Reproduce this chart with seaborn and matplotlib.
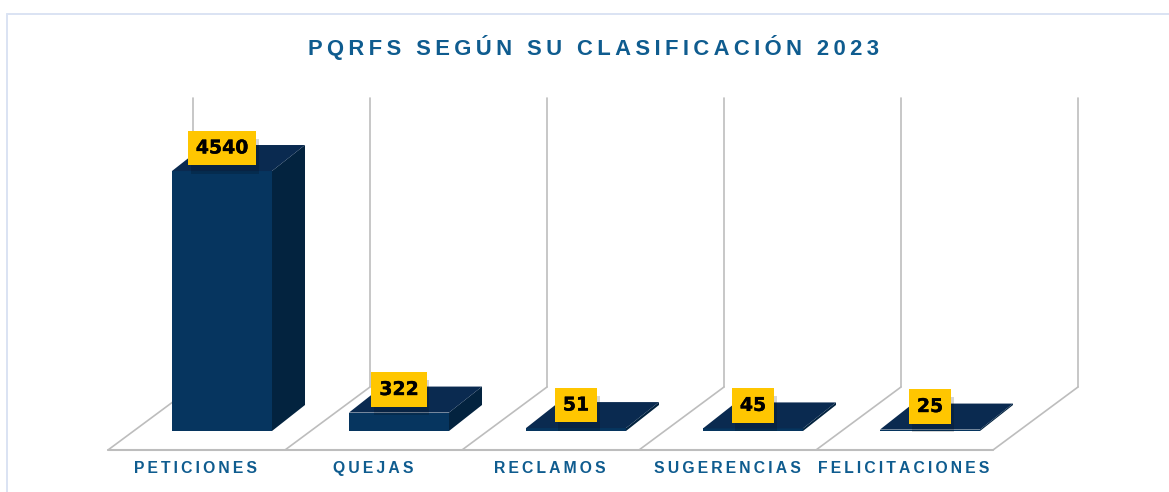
import matplotlib
matplotlib.use("Agg")
import matplotlib.pyplot as plt
import matplotlib.patheffects as pe
from matplotlib.lines import Line2D
from matplotlib.patches import Polygon
import seaborn as sns

categories = ["PETICIONES", "QUEJAS", "RECLAMOS", "SUGERENCIAS", "FELICITACIONES"]
values = [4540, 322, 51, 45, 25]
title = "PQRFS SEGÚN SU CLASIFICACIÓN 2023"

W, H = 1169, 492
BLUE = "#0F5C8F"
FRONT, TOP, SIDE = "#06355F", "#0A2A50", "#03233F"
GREY = "#BDBDBD"
YELLOW = "#FFC600"


def tracked(s, gap):
    return gap.join(s)


sns.set_theme(style="white")
plt.rcParams["font.family"] = ["Liberation Sans", "DejaVu Sans"]

fig = plt.figure(figsize=(W / 100, H / 100), dpi=100, facecolor="white")
ax = fig.add_axes([133.5 / W, 1 - 431 / H, 885 / W, 331 / H])
ax.patch.set_alpha(0)

sns.barplot(x=categories, y=values, color=FRONT, saturation=1, width=0.565, ax=ax, zorder=3,
            linewidth=0)
ax.set_xlim(-0.5, 4.5)
ax.set_ylim(0, 5780)

# px -> data conversions for the pseudo-3D depth
ux = 177.0
uy = 260.0 / 4540.0
dx, dy = 33 / ux, 26 / uy

# side and top faces of each bar
for bar in list(ax.patches):
    x0, w, h = bar.get_x(), bar.get_width(), bar.get_height()
    x1 = x0 + w
    ax.add_patch(Polygon([(x1, 0), (x1 + dx, dy), (x1 + dx, h + dy), (x1, h)],
                         fc=SIDE, ec="none", zorder=3, clip_on=False))
    ax.add_patch(Polygon([(x0, h), (x0 + dx, h + dy), (x1 + dx, h + dy), (x1, h)],
                         fc=TOP, ec="none", zorder=3, clip_on=False))

# floor and back walls
n = len(categories)
back_off, front_off = 59.5 / ux, -25.5 / ux
floor_front, floor_back, wall_top = -19 / uy, 44 / uy, 333 / uy
for i in range(n + 1):
    xb = i - 0.5 + back_off
    xf = i - 0.5 + front_off
    ax.add_line(Line2D([xb, xb], [floor_back, wall_top], color=GREY, lw=1.2, zorder=1, clip_on=False))
    ax.add_line(Line2D([xf, xb], [floor_front, floor_back], color=GREY, lw=1.2, zorder=1, clip_on=False))
ax.add_line(Line2D([-0.5 + front_off, n - 0.5 + front_off], [floor_front, floor_front],
                   color=GREY, lw=1.5, zorder=1, clip_on=False))

# value labels
for bar, v in zip(list(ax.patches)[:len(values)], values):
    t = ax.annotate(str(v), xy=(bar.get_x() + bar.get_width() / 2, v), xytext=(0, 16.6),
                    textcoords="offset points", ha="center", va="center",
                    family="DejaVu Sans", fontweight="bold", fontsize=13.6, color="black", zorder=6,
                    annotation_clip=False,
                    path_effects=[pe.withStroke(linewidth=0.25, foreground="black")],
                    bbox=dict(boxstyle="square,pad=0.42", fc=YELLOW, ec="none"))
    t.get_bbox_patch().set_path_effects([
        pe.SimplePatchShadow(offset=(2, -6), shadow_rgbFace="black", alpha=0.16),
        pe.Normal(),
    ])

# category labels
ax.set_xticks([i - 0.147 for i in range(n)])
ax.set_xticklabels([tracked(c, "\u2009") for c in categories], color=BLUE, fontweight="bold", fontsize=11.3)
ax.tick_params(axis="x", length=0, pad=21.5)
ax.set_yticks([])
ax.set_xlabel("")
ax.set_ylabel("")
sns.despine(ax=ax, left=True, bottom=True)

fig.text(593.5 / W, 1 - 48 / H, tracked(title, "\u2009"), ha="center", va="center",
         color=BLUE, fontweight="bold", fontsize=15.8)

# card border
for xs, ys in [((6.5, 6.5), (492, 13.5)), ((6.5, 1169), (13.5, 13.5))]:
    fig.add_artist(Line2D([x / W for x in xs], [1 - y / H for y in ys],
                          color="#DAE3F3", lw=1.4, transform=fig.transFigure))

fig.savefig("out.png", dpi=100)
